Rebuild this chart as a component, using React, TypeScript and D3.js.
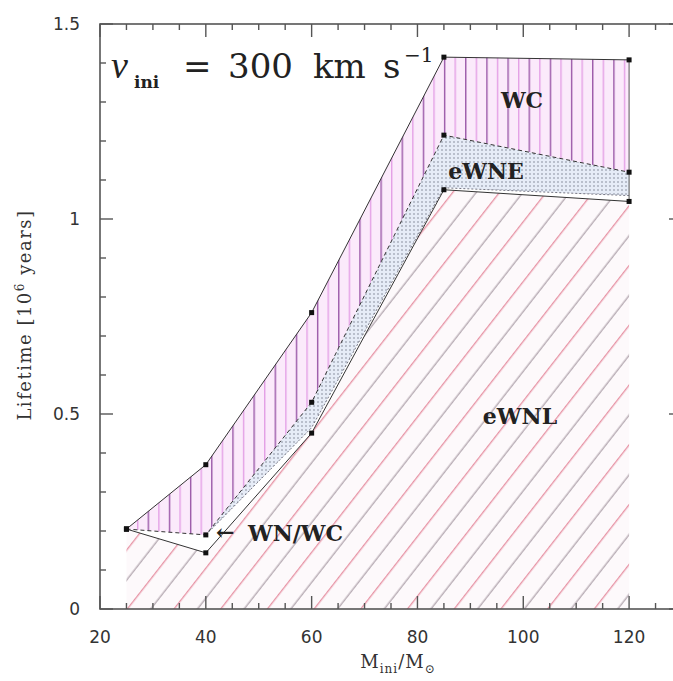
import React from "react";
import * as d3 from "d3";

const masses = [25, 40, 60, 85, 120];
const topEdge = [0.205, 0.37, 0.76, 1.415, 1.408];
const wcLower = [0.205, 0.19, 0.53, 1.215, 1.12];
const ewneLower = [0.205, 0.19, 0.465, 1.08, 1.06];
const ewnlUpper = [0.205, 0.144, 0.451, 1.075, 1.045];

const xMajor = [20, 40, 60, 80, 100, 120];
const yMajor = [0, 0.5, 1, 1.5];
const yMajorLabels = ["0", "0.5", "1", "1.5"];

const W = 673;
const H = 681;

export default function App() {
  const x = d3.scaleLinear().domain([20, 130]).range([100, 682]);
  const y = d3.scaleLinear().domain([0, 1.5]).range([609, 24]);

  type P = { m: number; lo: number; hi: number };
  const band = (lo: number[], hi: number[], from = 0): P[] =>
    masses.map((m, i) => ({ m, lo: lo[i], hi: hi[i] })).slice(from);

  const area = d3
    .area<P>()
    .x((d) => x(d.m))
    .y0((d) => y(d.lo))
    .y1((d) => y(d.hi));

  const line = (vals: number[], from = 0) =>
    d3
      .line<number>()
      .x((_, i) => x(masses[i + from]))
      .y((v) => y(v))(vals.slice(from)) || "";

  const zeros = masses.map(() => 0);
  const wcPath = area(band(wcLower, topEdge)) || "";
  const ewnePath = area(band(ewneLower, wcLower, 1)) || "";
  const ewnlPath = area(band(zeros, ewnlUpper)) || "";

  const xMinor = d3.range(20, 131, 5);
  const yMinor = d3.range(0, 1.501, 0.1);
  const left = x(20);
  const right = x(130);
  const top = y(1.5);
  const bottom = y(0);

  const tickColor = "#555";
  const s = 18.4;

  return (
    <svg
      width={W}
      height={H}
      style={{ position: "absolute", left: 0, top: 0, background: "#fff" }}
    >
      <defs>
        <pattern
          id="wcPat"
          patternUnits="userSpaceOnUse"
          x={x(25)}
          y={0}
          width={x(29) - x(25)}
          height={10}
        >
          <rect width={x(29) - x(25)} height={10} fill="#fbeafb" />
          <line x1={0.7} y1={0} x2={0.7} y2={10} stroke="#9a58a8" strokeWidth={1.4} />
          <line
            x1={x(27) - x(25) + 0.7}
            y1={0}
            x2={x(27) - x(25) + 0.7}
            y2={10}
            stroke="#e4a0e6"
            strokeWidth={1.4}
          />
        </pattern>
        <pattern id="ewnePat" patternUnits="userSpaceOnUse" width={4} height={4}>
          <rect width={4} height={4} fill="#e6ecf7" />
          <circle cx={2} cy={2} r={0.8} fill="#7f8596" />
        </pattern>
        <pattern
          id="ewnlPat"
          patternUnits="userSpaceOnUse"
          width={s * 2}
          height={20}
          patternTransform={`translate(${x(25)},${bottom}) rotate(38)`}
        >
          <rect width={s * 2} height={20} fill="#fdf9fb" />
          <line x1={0.7} y1={0} x2={0.7} y2={20} stroke="#e5899c" strokeWidth={1.2} />
          <line x1={s + 0.7} y1={0} x2={s + 0.7} y2={20} stroke="#a3959f" strokeWidth={1.1} />
        </pattern>
      </defs>

      {/* regions */}
      <path d={ewnlPath} fill="url(#ewnlPat)" />
      <path d={wcPath} fill="url(#wcPat)" />
      <path d={ewnePath} fill="url(#ewnePat)" />

      {/* boundaries */}
      <path d={line(topEdge)} fill="none" stroke="#333" strokeWidth={1} />
      <path d={line(ewnlUpper)} fill="none" stroke="#333" strokeWidth={1} />
      <path d={line(wcLower)} fill="none" stroke="#333" strokeWidth={1} strokeDasharray="4 3" />
      <path
        d={line(ewneLower, 1)}
        fill="none"
        stroke="#556"
        strokeWidth={0.8}
        strokeDasharray="2 2"
      />
      <line
        x1={x(120)}
        x2={x(120)}
        y1={y(topEdge[4])}
        y2={y(ewnlUpper[4])}
        stroke="#555"
        strokeWidth={1}
      />

      {/* markers */}
      {[topEdge, wcLower, ewnlUpper].map((arr, k) =>
        arr.map((v, i) => (
          <rect
            key={`${k}-${i}`}
            x={x(masses[i]) - 2.5}
            y={y(v) - 2.5}
            width={5}
            height={5}
            fill="#111"
          />
        ))
      )}

      {/* frame */}
      <rect
        x={left}
        y={top}
        width={right - left}
        height={bottom - top}
        fill="none"
        stroke={tickColor}
        strokeWidth={1.6}
      />
      {xMinor.map((v) => {
        const len = xMajor.includes(v) ? 13 : 6;
        return (
          <g key={`xt${v}`}>
            <line x1={x(v)} x2={x(v)} y1={bottom} y2={bottom - len} stroke={tickColor} strokeWidth={1.4} />
            <line x1={x(v)} x2={x(v)} y1={top} y2={top + len} stroke={tickColor} strokeWidth={1.4} />
          </g>
        );
      })}
      {yMinor.map((v, i) => {
        const len = i % 5 === 0 ? 13 : 6;
        return (
          <g key={`yt${i}`}>
            <line x1={left} x2={left + len} y1={y(v)} y2={y(v)} stroke={tickColor} strokeWidth={1.4} />
            <line x1={right} x2={right - len} y1={y(v)} y2={y(v)} stroke={tickColor} strokeWidth={1.4} />
          </g>
        );
      })}

      {/* tick labels */}
      {xMajor.map((v) => (
        <text
          key={`xl${v}`}
          x={x(v)}
          y={bottom + 34}
          textAnchor="middle"
          fontFamily="DejaVu Sans"
          fontSize={17}
          fill="#333"
        >
          {v}
        </text>
      ))}
      {yMajor.map((v, i) => (
        <text
          key={`yl${v}`}
          x={left - 20}
          y={y(v) + 6}
          textAnchor="end"
          fontFamily="DejaVu Sans"
          fontSize={17}
          fill="#333"
        >
          {yMajorLabels[i]}
        </text>
      ))}

      {/* axis titles */}
      <text
        transform={`translate(31, 315) rotate(-90)`}
        textAnchor="middle"
        fontFamily="DejaVu Serif"
        fontSize={18}
        letterSpacing={1.5}
        fill="#333"
      >
        Lifetime [10
        <tspan dy={-7} fontSize={12}>6</tspan>
        <tspan dy={7}> years]</tspan>
      </text>
      <text
        x={398}
        y={668}
        textAnchor="middle"
        fontFamily="DejaVu Serif"
        fontSize={18}
        letterSpacing={1}
        fill="#333"
      >
        M
        <tspan dy={5} fontSize={12}>ini</tspan>
        <tspan dy={-5}>/M</tspan>
        <tspan dy={5} fontSize={12}>⊙</tspan>
      </text>

      {/* title */}
      <g fontFamily="DejaVu Serif" fill="#222">
        <text x={111} y={78} fontSize={38} fontStyle="italic" fontFamily="Liberation Serif">v</text>
        <text x={134} y={88} fontSize={17} fontWeight="bold">ini</text>
        <text x={183} y={78} fontSize={34}>=</text>
        <text x={228} y={78} fontSize={34}>300</text>
        <text x={313} y={78} fontSize={34}>km</text>
        <text x={383} y={78} fontSize={34}>s</text>
        <text x={404} y={62} fontSize={20}>−1</text>
      </g>

      {/* region labels */}
      <g fontFamily="DejaVu Serif" fontWeight="bold" fill="#222">
        <text x={522} y={108} fontSize={22} textAnchor="middle">WC</text>
        <text x={486} y={179} fontSize={22} textAnchor="middle">eWNE</text>
        <text x={520} y={424} fontSize={22} textAnchor="middle">eWNL</text>
        <text x={248} y={541} fontSize={22}>WN/WC</text>
        <text x={216} y={540} fontSize={22}>←</text>
      </g>
    </svg>
  );
}
